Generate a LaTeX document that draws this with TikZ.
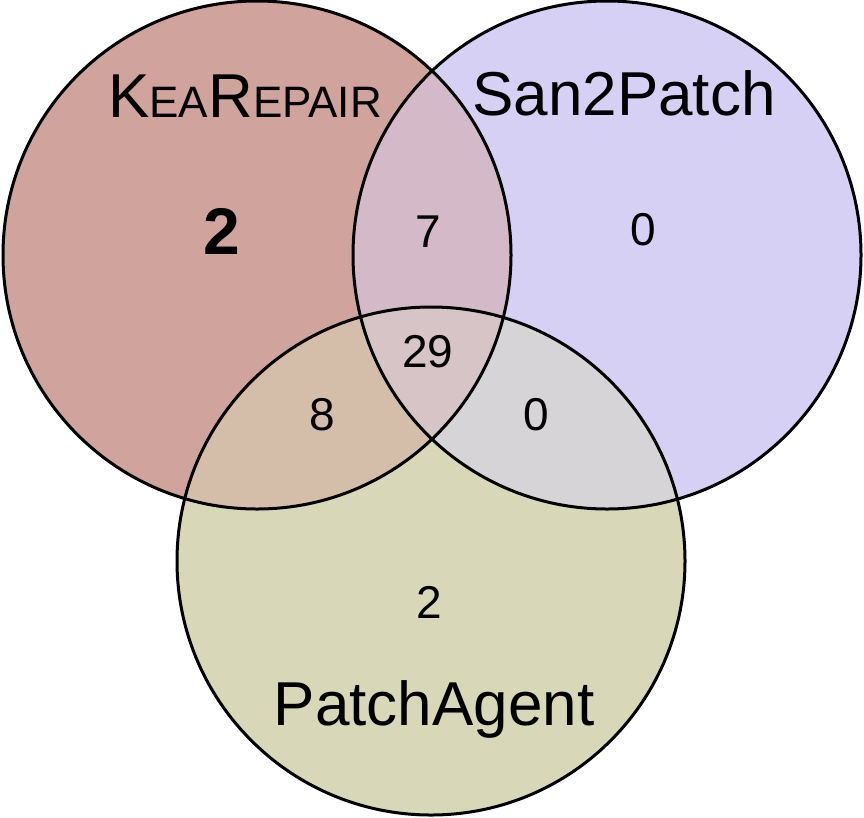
\documentclass[tikz,border=0pt]{standalone}
\usepackage{fontspec}
\setmainfont{Liberation Sans}
\usepackage{xcolor}

\definecolor{keacol}{RGB}{209,163,157}
\definecolor{sancol}{RGB}{214,208,244}
\definecolor{agentcol}{RGB}{216,216,184}
\definecolor{keasancol}{RGB}{212,186,200}
\definecolor{keaagentcol}{RGB}{212,190,170}
\definecolor{sanagentcol}{RGB}{214,212,214}
\definecolor{allcol}{RGB}{214,196,198}

\newcommand{\bigcaps}{\fontsize{62}{66}\selectfont}
\newcommand{\smallcaps}{\fontsize{44}{46}\selectfont}
\newcommand{\keaname}{K{\smallcaps EA}R{\smallcaps EPAIR}}

\tikzset{
  setline/.style={line width=3pt,draw=black},
  setname/.style={font=\bigcaps,anchor=base},
  count/.style={font=\fontsize{46}{50}\selectfont},
}

\begin{document}
\begin{tikzpicture}[x=1pt,y=-1pt]
			\useasboundingbox (0,0) rectangle (864,817);
			
			% Set centres
			\coordinate (kea) at (257,255);
			\coordinate (san) at (607,255);
			\coordinate (agent) at (431,561);
			
			% Single sets
			\fill[keacol] (kea) circle (254);
			\fill[sancol] (san) circle (254);
			\fill[agentcol] (agent) circle (254);
			
			% Pairwise overlaps
			\begin{scope}
				\clip (kea) circle (254);
				\fill[keasancol] (san) circle (254);
				\fill[keaagentcol] (agent) circle (254);
			\end{scope}
			\begin{scope}
				\clip (san) circle (254);
				\fill[sanagentcol] (agent) circle (254);
			\end{scope}
			
			% Triple overlap
			\begin{scope}
				\clip (kea) circle (254);
				\clip (san) circle (254);
				\fill[allcol] (agent) circle (254);
			\end{scope}
			
			% Outlines
			\draw[setline] (kea) circle (254);
			\draw[setline] (san) circle (254);
			\draw[setline] (agent) circle (254);
			
			% Set names
			\node[setname] (keaname) at (245,117) {\keaname};
			\node[setname] (sanname) at (624,115) {San2Patch};
			\node[setname] (agentname) at (434,725) {PatchAgent};
			
			% Counts
			\node[count,font=\fontsize{66}{70}\selectfont\bfseries] (onlykea) at (222,231) {2};
			\node[count] (onlysan) at (643,230) {0};
			\node[count] (onlyagent) at (429,602) {2};
			\node[count] (keasan) at (428,232) {7};
			\node[count] (keaagent) at (322,415) {8};
			\node[count] (sanagent) at (536,415) {0};
			\node[count] (all) at (428,352) {29};
			
		\end{tikzpicture}
\end{document}
